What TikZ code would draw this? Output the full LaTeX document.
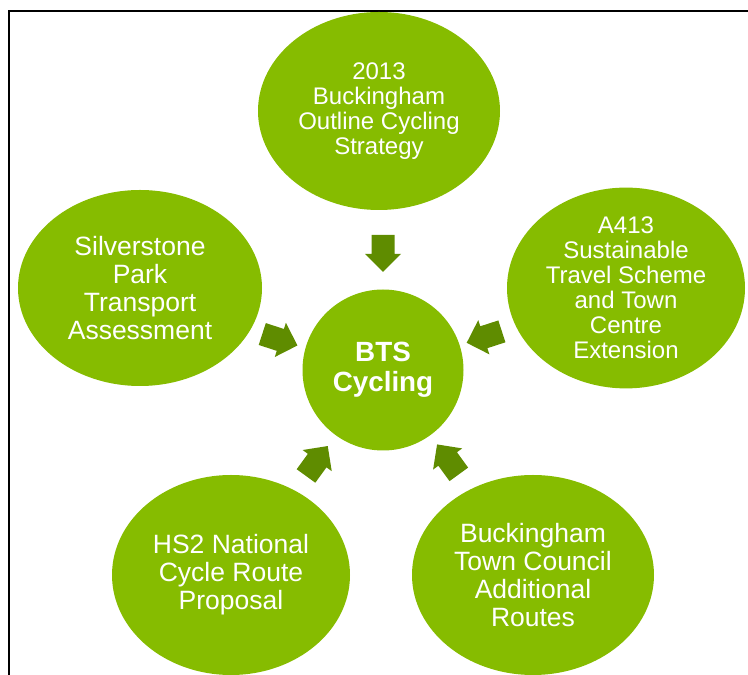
\documentclass[tikz,border=0pt]{standalone}
\usepackage{fontspec}
\setmainfont{Liberation Sans}
\usetikzlibrary{shapes.geometric,calc}
\definecolor{bubble}{HTML}{86BC00}
\definecolor{arrowgreen}{HTML}{5F8C00}
\tikzset{
  bubble/.style={ellipse, fill=bubble, draw=none, text=white, align=center, inner sep=0pt,
    font=\fontsize{26.5}{28}\selectfont},
  tight/.style={font=\fontsize{24}{25}\selectfont},
  hub/.style={circle, fill=bubble, draw=none, text=white, align=center, inner sep=0pt,
    minimum size=161, font=\bfseries\fontsize{27.8}{30}\selectfont},
  blockarr/.pic={\fill[arrowgreen] (0,0) -- (-18,18) -- (-18,11.5) -- (-37,11.5)
    -- (-37,-11.5) -- (-18,-11.5) -- (-18,-18) -- cycle;},
  frame/.style={line width=2pt, black}
}
\begin{document}
\begin{tikzpicture}[x=1pt,y=1pt]
\useasboundingbox (0,0) rectangle (748,675);
% frame
\coordinate (fr1) at (8.5,0);
\coordinate (fr2) at (8.5,664);
\coordinate (fr3) at (748,664);
\draw[frame] (fr1) -- (fr2) -- (fr3);
% nodes
\node[bubble, tight, minimum width=242, minimum height=198] (strat) at (379,564)
  {2013\\Buckingham\\Outline Cycling\\Strategy};
\node[bubble, minimum width=244, minimum height=196] (silv) at (140,387)
  {Silverstone\\Park\\Transport\\Assessment};
\node[bubble, tight, minimum width=238, minimum height=200] (a413) at (626,387)
  {A413\\Sustainable\\Travel Scheme\\and Town\\Centre\\Extension};
\node[bubble, minimum width=238, minimum height=200] (hs2) at (231,100)
  {HS2 National\\Cycle Route\\Proposal};
\node[bubble, minimum width=242, minimum height=200] (btc) at (533,100)
  {Buckingham\\Town Council\\Additional\\Routes};
\node[hub] (bts) at (383,305) {BTS\\Cycling};
% block arrows pointing into the hub
\pic[rotate=270] at ($(bts.center)+(90:98)$) {blockarr};
\pic[rotate=198] at ($(bts.center)+(18:88)$) {blockarr};
\pic[rotate=126] at ($(bts.center)+(-54:92)$) {blockarr};
\pic[rotate=54] at ($(bts.center)+(-126:94)$) {blockarr};
\pic[rotate=-18] at ($(bts.center)+(164:89)$) {blockarr};
\end{tikzpicture}
\end{document}
